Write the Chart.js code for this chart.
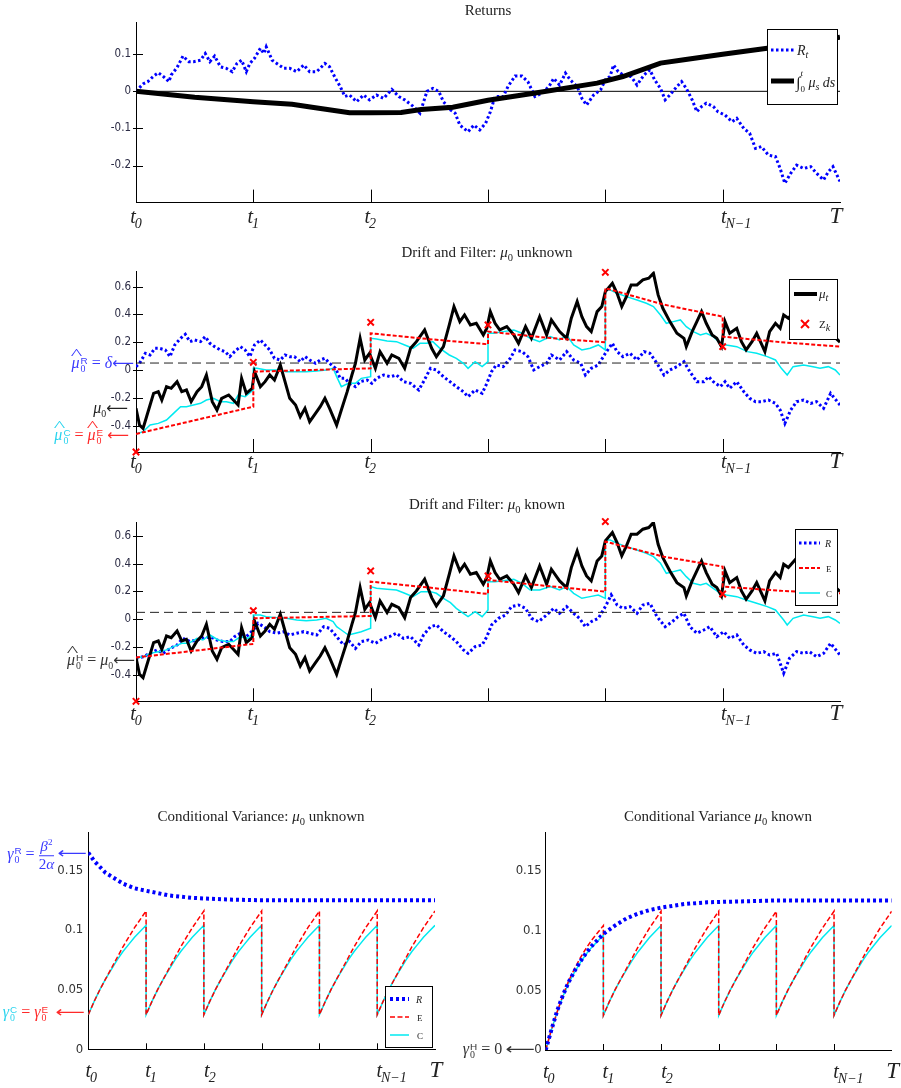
<!DOCTYPE html>
<html>
<head>
<meta charset="utf-8">
<script src="https://cdn.jsdelivr.net/npm/chart.js@4.4.1/dist/chart.umd.min.js"></script>
<style>
html, body { margin: 0; padding: 0; background: #fff; }
#page { position: relative; width: 901px; height: 1088px; overflow: hidden; font-family: "Liberation Serif", "DejaVu Serif", serif; color: #222; }
#page canvas { position: absolute; left: 0; top: 0; }
.t { position: absolute; white-space: nowrap; transform: translate(-50%, -50%); font-size: 15px; }
.a { position: absolute; white-space: nowrap; transform: translateY(-50%); font-size: 16px; }
.hat { position: relative; display: inline-block; }
.hat::before { content: "^"; position: absolute; left: 0.12em; right: -0.05em; top: -0.58em; text-align: center; font-style: normal; font-size: 0.9em; transform: scaleX(1.7); }
.ss { display: inline-block; vertical-align: -0.45em; line-height: 0.9; font-size: 0.62em; margin-left: 1px; }
.ss .u { display: block; font-family: "Liberation Sans", sans-serif; }
.ss .d { display: block; }
.frac { display: inline-block; vertical-align: middle; text-align: center; line-height: 1.1; font-size: 0.95em; }
.frac .n { display: block; border-bottom: 1px solid currentColor; padding: 0 1px; }
.frac .m { display: block; }
.arr { font-family: "DejaVu Sans", sans-serif; font-size: 0.95em; }
.arrL { display: inline-block; transform: scaleX(1.35); transform-origin: right center; margin-left: 11px; }
</style>
</head>
<body>
<div id="page">
  <canvas id="c1" width="901" height="1088"></canvas>
  <canvas id="c2" width="901" height="1088"></canvas>
  <canvas id="c3" width="901" height="1088"></canvas>
  <canvas id="c4" width="901" height="1088"></canvas>
  <canvas id="c5" width="901" height="1088"></canvas>

  <div class="t" style="left:488px;top:10px">Returns</div>
  <div class="t" style="left:487px;top:253px">Drift and Filter: <i>μ</i><sub style="font-size:0.7em">0</sub> unknown</div>
  <div class="t" style="left:487px;top:505px">Drift and Filter: <i>μ</i><sub style="font-size:0.7em">0</sub> known</div>
  <div class="t" style="left:261px;top:817px">Conditional Variance: <i>μ</i><sub style="font-size:0.7em">0</sub> unknown</div>
  <div class="t" style="left:718px;top:817px">Conditional Variance <i>μ</i><sub style="font-size:0.7em">0</sub> known</div>

  <div class="a" style="right:767px;top:364px;color:#3a3aff"><i class="hat">μ</i><span class="ss"><span class="u">R</span><span class="d">0</span></span> = <i>δ</i><span class="arr">⟵</span></div>
  <div class="a" style="right:773px;top:409px;color:#222"><i>μ</i><sub style="font-size:0.62em">0</sub><span class="arr">⟵</span></div>
  <div class="a" style="right:772px;top:436px"><span style="color:#2ad4ee"><i class="hat">μ</i><span class="ss"><span class="u">C</span><span class="d">0</span></span></span><span style="color:#ff2a2a"> = <i class="hat">μ</i><span class="ss"><span class="u">E</span><span class="d">0</span></span> <span class="arr">⟵</span></span></div>
  <div class="a" style="right:766px;top:661px;color:#333"><i class="hat">μ</i><span class="ss"><span class="u">H</span><span class="d">0</span></span> = <i>μ</i><sub style="font-size:0.62em">0</sub><span class="arr">⟵</span></div>

  <div class="a" style="right:814px;top:855px;color:#3a3aff"><i>γ</i><span class="ss"><span class="u">R</span><span class="d">0</span></span> = <span class="frac"><span class="n"><i>β</i><sup style="font-size:0.6em">2</sup></span><span class="m">2<i>α</i></span></span><span class="arr arrL">⟵</span></div>
  <div class="a" style="right:816px;top:1013px"><span style="color:#2ad4ee"><i>γ</i><span class="ss"><span class="u">C</span><span class="d">0</span></span></span><span style="color:#ff2a2a"> = <i>γ</i><span class="ss"><span class="u">E</span><span class="d">0</span></span> <span class="arr arrL">⟵</span></span></div>
  <div class="a" style="right:366px;top:1050px;color:#333"><i>γ</i><span class="ss"><span class="u">H</span><span class="d">0</span></span> = 0<span class="arr arrL">⟵</span></div>
</div>

<script>
// time axis: observation dates t0 ... T
const X_TICKS = [0, 1, 2, 3, 4, 5, 6];
const X_MARKS = [1, 2, 3, 4, 5];
const X_MAIN = ["t", "t", "t", "", "", "t", "T"];
const X_SUB = ["0", "1", "2", "", "", "N−1", ""];

const Y1_TICKS = [0.1, 0, -0.1, -0.2];
const Y2_TICKS = [0.6, 0.4, 0.2, 0, -0.2, -0.4];
const Y4_TICKS = [0.15, 0.1, 0.05, 0];
const DELTA = 0.05;

// panel 1: returns R_t and integrated drift, [t, value]
const RET_R = [[0,0],[.06,.02],[.1,.026],[.15,.041],[.19,.05],[.23,.041],[.28,.026],[.3,.044],[.35,.064],[.4,.095],[.45,.08],[.49,.08],[.55,.084],[.59,.102],[.63,.08],[.67,.095],[.72,.066],[.77,.062],[.82,.053],[.86,.075],[.9,.084],[.94,.053],[.97,.075],[1.01,.089],[1.06,.116],[1.09,.102],[1.11,.12],[1.16,.084],[1.2,.075],[1.26,.062],[1.31,.062],[1.37,.053],[1.43,.071],[1.48,.053],[1.54,.053],[1.61,.075],[1.65,.066],[1.7,.035],[1.74,.013],[1.78,-.014],[1.82,-.01],[1.88,-.028],[1.94,-.01],[1.99,-.023],[2.05,-.01],[2.11,-.019],[2.18,.005],[2.24,-.014],[2.29,-.023],[2.36,-.04],[2.42,-.059],[2.48,0],[2.53,.008],[2.58,0],[2.62,-.028],[2.68,-.05],[2.72,-.059],[2.76,-.091],[2.83,-.109],[2.88,-.091],[2.93,-.104],[2.98,-.086],[3.02,-.055],[3.06,-.014],[3.13,-.014],[3.17,.013],[3.23,.041],[3.29,.041],[3.34,.026],[3.4,-.014],[3.46,-.005],[3.52,.013],[3.56,.035],[3.61,.017],[3.66,.049],[3.7,.031],[3.76,.013],[3.8,-.019],[3.84,-.037],[3.9,-.01],[3.96,.004],[4.0,.031],[4.04,.04],[4.07,.071],[4.11,.053],[4.17,.04],[4.22,.04],[4.27,.017],[4.33,.044],[4.38,.058],[4.42,.031],[4.47,.008],[4.51,-.023],[4.55,-.01],[4.61,.013],[4.65,.026],[4.69,.008],[4.74,-.023],[4.78,-.055],[4.82,-.041],[4.86,-.032],[4.92,-.041],[4.96,-.055],[5.02,-.064],[5.08,-.082],[5.12,-.073],[5.18,-.1],[5.23,-.113],[5.28,-.154],[5.33,-.149],[5.39,-.172],[5.45,-.176],[5.49,-.208],[5.53,-.248],[5.58,-.221],[5.63,-.199],[5.69,-.208],[5.75,-.203],[5.8,-.221],[5.86,-.239],[5.9,-.217],[5.94,-.203],[6,-.243]];
const RET_INT = [[0,0],[.5,-.016],[1,-.028],[1.33,-.035],[1.5,-.043],[1.82,-.058],[2,-.058],[2.26,-.057],[2.43,-.049],[2.7,-.043],[3,-.024],[3.39,-.005],[3.93,.022],[4.15,.04],[4.47,.076],[4.67,.085],[5,.1],[5.38,.116],[6,.146]];
const ZERO = [[0,0],[6,0]];

// panels 2 and 3: drift mu_t (same path in both)
const MU = [[0,-.276],[.03,-.396],[.06,-.42],[.09,-.336],[.12,-.252],[.15,-.168],[.19,-.156],[.22,-.216],[.26,-.12],[.3,-.132],[.35,-.084],[.39,-.156],[.43,-.144],[.47,-.228],[.52,-.156],[.56,-.12],[.6,-.036],[.65,-.228],[.69,-.288],[.73,-.204],[.79,-.18],[.83,-.216],[.87,-.252],[.9,-.06],[.94,-.168],[.99,-.132],[1.01,-.012],[1.06,-.12],[1.1,-.084],[1.14,-.036],[1.18,-.072],[1.23,.036],[1.27,-.084],[1.31,-.204],[1.36,-.252],[1.4,-.336],[1.44,-.276],[1.48,-.372],[1.53,-.312],[1.57,-.264],[1.61,-.204],[1.65,-.276],[1.71,-.396],[1.75,-.288],[1.8,-.156],[1.84,-.036],[1.87,.048],[1.91,.228],[1.95,.072],[1.99,.12],[2.04,.012],[2.08,.132],[2.14,.048],[2.18,.108],[2.24,.084],[2.29,.012],[2.34,.156],[2.39,.204],[2.46,.288],[2.52,.156],[2.56,.096],[2.62,.168],[2.67,.324],[2.71,.456],[2.76,.348],[2.8,.396],[2.85,.324],[2.9,.336],[2.96,.252],[2.99,.3],[3.02,.42],[3.06,.336],[3.1,.288],[3.16,.312],[3.22,.252],[3.26,.192],[3.32,.312],[3.37,.228],[3.44,.384],[3.5,.252],[3.54,.36],[3.61,.276],[3.67,.228],[3.71,.372],[3.76,.492],[3.8,.384],[3.84,.312],[3.88,.276],[3.93,.42],[3.97,.456],[4.0,.564],[4.06,.624],[4.1,.552],[4.14,.456],[4.18,.528],[4.22,.612],[4.27,.612],[4.32,.648],[4.37,.66],[4.41,.696],[4.45,.54],[4.49,.444],[4.55,.348],[4.61,.264],[4.67,.228],[4.69,.168],[4.74,.276],[4.78,.348],[4.82,.42],[4.86,.336],[4.91,.252],[4.95,.228],[4.99,.168],[5.02,.348],[5.06,.264],[5.12,.3],[5.16,.204],[5.2,.144],[5.25,.204],[5.29,.264],[5.36,.132],[5.4,.276],[5.45,.336],[5.49,.3],[5.52,.396],[5.56,.372],[5.62,.43],[5.7,.36],[5.8,.32],[5.9,.28],[6,.2]];

// panel 2 (mu0 unknown) filters
const R2 = [[0,.024],[.03,.048],[.08,.12],[.12,.108],[.16,.156],[.2,.156],[.25,.144],[.29,.096],[.33,.18],[.38,.228],[.42,.257],[.46,.204],[.5,.216],[.55,.204],[.59,.24],[.63,.192],[.67,.168],[.72,.144],[.76,.132],[.8,.096],[.84,.132],[.89,.168],[.93,.144],[.97,.096],[1.01,.18],[1.06,.216],[1.1,.18],[1.14,.144],[1.18,.084],[1.23,.072],[1.27,.108],[1.31,.096],[1.35,.096],[1.4,.06],[1.44,.096],[1.48,.072],[1.53,.048],[1.57,.072],[1.61,.084],[1.65,.048],[1.7,.012],[1.74,-.06],[1.78,-.06],[1.82,-.096],[1.87,-.12],[1.91,-.084],[1.97,-.072],[2.01,-.096],[2.05,-.06],[2.11,-.036],[2.17,-.048],[2.22,-.036],[2.28,-.084],[2.34,-.096],[2.41,-.144],[2.45,-.084],[2.51,.012],[2.56,0],[2.62,-.048],[2.67,-.08],[2.73,-.12],[2.79,-.156],[2.83,-.192],[2.89,-.144],[2.95,-.168],[2.99,-.096],[3.03,-.012],[3.07,.036],[3.13,.024],[3.19,.084],[3.23,.144],[3.29,.132],[3.34,.096],[3.39,0],[3.44,.024],[3.5,.048],[3.54,.108],[3.61,.072],[3.67,.132],[3.73,.072],[3.79,.048],[3.83,-.036],[3.88,.012],[3.94,.036],[4.0,.12],[4.06,.192],[4.1,.132],[4.15,.096],[4.21,.12],[4.27,.072],[4.33,.132],[4.38,.12],[4.44,.048],[4.5,-.036],[4.55,0],[4.61,.024],[4.67,.06],[4.72,-.012],[4.78,-.084],[4.84,-.084],[4.88,-.048],[4.92,-.084],[4.98,-.12],[5.02,-.084],[5.06,-.132],[5.12,-.084],[5.18,-.156],[5.23,-.204],[5.28,-.228],[5.33,-.228],[5.39,-.216],[5.45,-.24],[5.49,-.288],[5.53,-.384],[5.58,-.288],[5.63,-.228],[5.69,-.216],[5.75,-.24],[5.8,-.228],[5.86,-.276],[5.92,-.168],[6,-.252]];
const C2 = [[0,-.46],[.06,-.444],[.12,-.396],[.19,-.384],[.26,-.36],[.32,-.312],[.38,-.264],[.43,-.264],[.49,-.252],[.55,-.24],[.6,-.216],[.66,-.204],[.72,-.228],[.77,-.228],[.83,-.24],[.87,-.18],[.93,-.192],[1,-.144],[1,.012],[1.03,.012],[1.11,0],[1.2,0],[1.28,-.012],[1.37,-.012],[1.45,-.012],[1.54,-.007],[1.62,0],[1.68,.012],[1.71,-.048],[1.75,-.12],[1.81,-.096],[1.87,-.096],[1.92,-.06],[2,-.048],[2,.228],[2.05,.223],[2.14,.209],[2.22,.204],[2.29,.18],[2.36,.156],[2.42,.192],[2.48,.192],[2.53,.204],[2.59,.156],[2.67,.108],[2.73,.084],[2.79,.048],[2.83,.012],[2.89,.06],[2.95,.024],[3,.06],[3,.264],[3.05,.264],[3.13,.276],[3.22,.288],[3.29,.264],[3.36,.228],[3.44,.204],[3.53,.24],[3.61,.216],[3.67,.252],[3.73,.18],[3.8,.144],[3.87,.156],[3.94,.18],[4,.144],[4,.576],[4.04,.576],[4.1,.552],[4.18,.528],[4.27,.504],[4.35,.48],[4.41,.456],[4.47,.396],[4.52,.336],[4.58,.348],[4.64,.36],[4.69,.312],[4.75,.276],[4.81,.252],[4.86,.264],[4.92,.24],[4.98,.192],[5.03,.18],[5.12,.168],[5.21,.132],[5.29,.12],[5.38,.096],[5.45,.072],[5.5,.012],[5.55,-.036],[5.6,.024],[5.69,.036],[5.77,.024],[5.83,.012],[5.9,.024],[5.96,0],[6,-.036]];
const E2 = [[0,-.46],[.5,-.362],[1,-.264],[1,-.012],[2,.012],[2,.264],[2.5,.222],[3,.185],[3,.276],[3.5,.232],[4,.199],[4,.588],[4.5,.47],[5,.384],[5,.24],[5.5,.2],[6,.168]];
const Z2 = [[0,-.59],[1,.055],[2,.343],[3,.324],[4,.703],[5,.168]];

// panel 3 (mu0 known) filters
const R3 = [[0,-.28],[.06,-.27],[.12,-.245],[.18,-.22],[.23,-.245],[.29,-.21],[.35,-.185],[.4,-.137],[.46,-.16],[.52,-.149],[.57,-.137],[.63,-.125],[.69,-.149],[.74,-.16],[.8,-.16],[.84,-.125],[.89,-.1],[.94,-.125],[1.0,-.077],[1.04,-.029],[1.09,-.053],[1.14,-.089],[1.2,-.1],[1.26,-.089],[1.31,-.113],[1.37,-.1],[1.43,-.089],[1.48,-.1],[1.54,-.113],[1.6,-.053],[1.65,-.065],[1.71,-.125],[1.77,-.185],[1.82,-.16],[1.87,-.21],[1.92,-.16],[1.98,-.149],[2.04,-.173],[2.11,-.137],[2.16,-.125],[2.22,-.1],[2.28,-.137],[2.34,-.125],[2.41,-.185],[2.45,-.113],[2.51,-.053],[2.56,-.041],[2.62,-.089],[2.68,-.125],[2.73,-.16],[2.79,-.22],[2.83,-.245],[2.89,-.197],[2.95,-.185],[2.99,-.125],[3.03,-.041],[3.09,.007],[3.15,.031],[3.2,.091],[3.26,.103],[3.32,.079],[3.37,.007],[3.43,-.017],[3.5,.031],[3.56,.079],[3.61,.043],[3.67,.091],[3.73,.043],[3.78,.007],[3.83,-.053],[3.88,-.017],[3.94,.007],[4.0,.091],[4.05,.175],[4.1,.103],[4.15,.079],[4.21,.091],[4.27,.043],[4.32,.103],[4.38,.115],[4.44,.019],[4.51,-.053],[4.57,-.017],[4.62,.019],[4.67,.043],[4.72,-.053],[4.78,-.1],[4.84,-.077],[4.89,-.053],[4.95,-.125],[5.01,-.089],[5.06,-.137],[5.12,-.113],[5.18,-.185],[5.23,-.22],[5.29,-.245],[5.35,-.233],[5.4,-.257],[5.46,-.245],[5.52,-.388],[5.57,-.28],[5.63,-.233],[5.69,-.245],[5.74,-.233],[5.8,-.269],[5.86,-.245],[5.92,-.173],[6,-.257]];
const C3 = [[0,-.28],[.06,-.27],[.12,-.245],[.19,-.233],[.26,-.22],[.32,-.197],[.39,-.173],[.45,-.173],[.52,-.137],[.57,-.149],[.63,-.113],[.7,-.149],[.77,-.16],[.83,-.16],[.89,-.125],[.96,-.137],[1,-.089],[1,.031],[1.06,.031],[1.11,.019],[1.2,.012],[1.28,.007],[1.37,-.005],[1.45,-.01],[1.54,-.005],[1.62,.007],[1.68,-.017],[1.71,-.053],[1.75,-.077],[1.81,-.113],[1.87,-.1],[1.92,-.089],[2,-.065],[2,.235],[2.05,.223],[2.14,.216],[2.22,.211],[2.29,.187],[2.36,.163],[2.43,.199],[2.51,.199],[2.56,.187],[2.62,.151],[2.68,.12],[2.73,.079],[2.79,.043],[2.83,.019],[2.89,.055],[2.95,.019],[3,.067],[3,.271],[3.06,.271],[3.13,.278],[3.22,.288],[3.29,.259],[3.36,.211],[3.44,.211],[3.53,.235],[3.61,.211],[3.67,.235],[3.73,.187],[3.8,.151],[3.87,.163],[3.94,.175],[4,.151],[4,.571],[4.04,.571],[4.1,.547],[4.18,.523],[4.27,.499],[4.35,.475],[4.41,.451],[4.47,.403],[4.52,.331],[4.58,.343],[4.64,.355],[4.69,.307],[4.75,.259],[4.81,.247],[4.86,.259],[4.92,.223],[4.98,.187],[5.03,.175],[5.12,.163],[5.2,.139],[5.29,.115],[5.38,.091],[5.45,.067],[5.52,-.005],[5.55,-.041],[5.6,.007],[5.69,.031],[5.77,.019],[5.83,.007],[5.9,.019],[5.96,-.005],[6,-.029]];
const E3 = [[0,-.275],[.5,-.226],[1,-.177],[1,.007],[2,.024],[2,.271],[2.5,.228],[3,.182],[3,.283],[3.5,.24],[4,.199],[4,.559],[4.5,.45],[5,.379],[5,.235],[5.5,.205],[6,.187]];
const Z3 = [[0,-.59],[1,.062],[2,.348],[3,.312],[4,.703],[5,.182]];

// panels 4 and 5: conditional variances
const VAR_R_UNKNOWN = [[0,.165],[.1,.158],[.2,.153],[.3,.148],[.4,.145],[.5,.142],[.6,.139],[.7,.137],[.8,.135],[.9,.134],[1,.133],[1.2,.131],[1.4,.129],[1.6,.128],[1.8,.127],[2,.1265],[2.5,.1255],[3,.125],[6,.125]];
const VAR_R_KNOWN = [[0,0],[.1,.017],[.2,.033],[.3,.046],[.4,.057],[.5,.066],[.6,.074],[.7,.081],[.8,.087],[.9,.092],[1,.097],[1.2,.104],[1.4,.11],[1.6,.114],[1.8,.117],[2,.119],[2.4,.122],[2.8,.1235],[3.2,.124],[3.6,.1245],[4,.125],[6,.125]];
const VAR_TAU = [0, .1, .2, .3, .4, .5, .6, .7, .8, .9, 1];
const VAR_C_CYCLE = [.029, .040, .050, .059, .067, .075, .082, .088, .094, .099, .104];
const VAR_E_CYCLE = [.029, .040, .050, .059, .068, .077, .086, .094, .102, .109, .116];
const VAR_C_FIRST_KNOWN = [0, .017, .032, .045, .056, .065, .073, .080, .086, .091, .096];
const VAR_E_FIRST_KNOWN = [0, .017, .032, .046, .058, .068, .077, .085, .092, .098, .104];
const N_CYCLES = 6;

const W = 901, H = 1088, YAXIS_W = 60;
const SERIF = '"Liberation Serif","DejaVu Serif",serif';
const NARROW = '"Liberation Sans Narrow","DejaVu Sans Condensed","Liberation Sans",sans-serif';
const BLUE = "#0000ff", RED = "#ff0000", CYAN = "#00eaf0", BLACK = "#000";

const pts = (a) => a.map(([x, y]) => ({ x, y }));
const cycles = (first, cyc) => {
  const out = [];
  for (let k = 0; k < N_CYCLES; k++) {
    const v = k === 0 && first ? first : cyc;
    VAR_TAU.forEach((tau, i) => out.push([k + tau, v[i]]));
  }
  return out;
};
const line = (data, color, width, dash, extra) => Object.assign({
  data: pts(data), borderColor: color, borderWidth: width, borderDash: dash || [],
  pointRadius: 0, fill: false, tension: 0, borderCapStyle: "butt", borderJoinStyle: "miter"
}, extra || {});
const marks = (data) => ({
  data: pts(data), showLine: false, pointStyle: "crossRot", pointRadius: 4.5,
  pointBorderColor: RED, pointBorderWidth: 2, borderColor: RED, clip: false
});

function drawLegend(ctx, L) {
  const [x1, y1, x2, y2] = L.box;
  ctx.save();
  ctx.fillStyle = "#fff";
  ctx.fillRect(x1, y1, x2 - x1, y2 - y1);
  ctx.strokeStyle = "#000"; ctx.lineWidth = 1; ctx.setLineDash([]);
  ctx.strokeRect(x1 + 0.5, y1 + 0.5, x2 - x1, y2 - y1);
  ctx.textAlign = "left"; ctx.textBaseline = "alphabetic";
  for (const it of L.items) {
    if (it.line) {
      ctx.strokeStyle = it.line[0]; ctx.lineWidth = it.line[1]; ctx.setLineDash(it.line[2]);
      ctx.beginPath(); ctx.moveTo(it.sx[0], it.y); ctx.lineTo(it.sx[1], it.y); ctx.stroke();
      ctx.setLineDash([]);
    }
    if (it.mark) {
      const [mx, r] = it.mark;
      ctx.strokeStyle = RED; ctx.lineWidth = 2;
      ctx.beginPath();
      ctx.moveTo(mx - r, it.y - r); ctx.lineTo(mx + r, it.y + r);
      ctx.moveTo(mx + r, it.y - r); ctx.lineTo(mx - r, it.y + r);
      ctx.stroke();
    }
    ctx.fillStyle = "#222";
    let x = it.tx;
    for (const p of it.text) {
      ctx.font = p.f;
      ctx.fillText(p.t, x, it.y + (p.dy || 0));
      if (p.adv !== false) x += ctx.measureText(p.t).width;
    }
  }
  ctx.restore();
}

function deco(cfg) {
  return {
    id: "deco",
    afterDatasetsDraw(chart) { if (cfg.legend) drawLegend(chart.ctx, cfg.legend); },
    afterDraw(chart) {
      const ctx = chart.ctx, xs = chart.scales.x, ys = chart.scales.y, a = chart.chartArea;
      ctx.save();
      ctx.strokeStyle = "#000"; ctx.lineWidth = 1;
      if (cfg.yMarks) {
        for (const v of cfg.yTicks) {
          const py = Math.round(ys.getPixelForValue(v)) + 0.5;
          ctx.beginPath(); ctx.moveTo(a.left - 3, py); ctx.lineTo(a.left + 7, py); ctx.stroke();
        }
      }
      for (const v of X_MARKS) {
        const px = Math.round(xs.getPixelForValue(v)) + 0.5;
        ctx.beginPath(); ctx.moveTo(px, a.bottom); ctx.lineTo(px, a.bottom - cfg.xMark); ctx.stroke();
      }
      ctx.fillStyle = "#222"; ctx.textAlign = "left"; ctx.textBaseline = "alphabetic";
      X_TICKS.forEach((v, i) => {
        const main = X_MAIN[i];
        if (!main) return;
        ctx.font = "italic " + (main === "T" ? 23 : 20) + "px " + SERIF;
        const w = ctx.measureText(main).width;
        let x = xs.getPixelForValue(v) + cfg.xOff[i] - w / 2;
        const y = a.bottom + cfg.labelDy;
        ctx.fillText(main, x, y);
        x += w;
        if (X_SUB[i]) {
          ctx.font = "italic 14px " + SERIF;
          ctx.fillText(X_SUB[i], x - 1, y + 5);
        }
      });
      ctx.restore();
    }
  };
}

function panel(id, box, yr, yTicks, datasets, cfg) {
  cfg.yTicks = yTicks;
  return new Chart(document.getElementById(id), {
    type: "line",
    data: { datasets },
    options: {
      responsive: false, animation: false, events: [], parsing: false,
      layout: { padding: { left: box[0] - YAXIS_W, top: box[1], right: W - box[2], bottom: H - box[3] } },
      plugins: { legend: { display: false }, tooltip: { enabled: false } },
      scales: {
        x: {
          type: "linear", min: 0, max: 6,
          afterFit: (s) => { s.height = 0; },
          grid: { display: false, drawTicks: false },
          ticks: { display: false },
          border: { display: true, color: "#000", width: 1 }
        },
        y: {
          type: "linear", min: yr[0], max: yr[1],
          afterFit: (s) => { s.width = YAXIS_W; },
          afterBuildTicks: (s) => { s.ticks = yTicks.map((v) => ({ value: v })); },
          grid: { display: false, drawTicks: false },
          ticks: { padding: cfg.yPad, color: cfg.yColor, font: { family: NARROW, size: cfg.ySize }, callback: (v) => String(v) },
          border: { display: true, color: "#000", width: 1 }
        }
      }
    },
    plugins: [deco(cfg)]
  });
}

const TOP_OFF = [-3, -3, -3.5, 0, 0, 1, -4];
const BOT_OFF = [0, 2, 3, 0, 0, 2, 1];
const sub = (t, dy) => ({ t, f: "italic 10px " + SERIF, dy });

// Returns
panel("c1", [136, 22.7, 840, 202.6], [-0.3, 0.185], Y1_TICKS, [
  line(RET_INT, BLACK, 5),
  line(RET_R, BLUE, 3, [2.5, 2.5]),
  line(ZERO, BLACK, 1)
], {
  yPad: 5, yColor: "#2b2b44", ySize: 11.5, yMarks: true, xMark: 13, labelDy: 20, xOff: TOP_OFF,
  legend: { box: [767, 29, 837, 104], items: [
    { y: 50, line: [BLUE, 3, [2.5, 2.5]], sx: [771, 794], tx: 797, text: [{ t: "R", f: "italic 14px " + SERIF, dy: 5 }, sub("t", 8)] },
    { y: 81, line: [BLACK, 5, []], sx: [771, 794], tx: 796, text: [
      { t: "∫", f: "16px " + SERIF, dy: 7 }, { t: "t", f: "italic 9px " + SERIF, dy: -5, adv: false }, { t: "0", f: "9px " + SERIF, dy: 11 },
      { t: " μ", f: "italic 14px " + SERIF, dy: 6 }, sub("s", 9), { t: " ds", f: "italic 14px " + SERIF, dy: 6 }
    ] }
  ] }
});

// Drift and Filter: mu0 unknown
panel("c2", [136, 271.3, 840, 452], [-0.59, 0.71], Y2_TICKS, [
  marks(Z2),
  line(E2, RED, 2, [4, 2]),
  line(MU, BLACK, 3),
  line(C2, CYAN, 1.5),
  line([[0, DELTA], [6, DELTA]], "#222", 1, [9, 5]),
  line(R2, BLUE, 3, [2.5, 2.5])
], {
  yPad: 5, yColor: "#2b2b44", ySize: 11.5, yMarks: true, xMark: 13, labelDy: 16, xOff: TOP_OFF,
  legend: { box: [789, 279, 837, 339], items: [
    { y: 294, line: [BLACK, 4, []], sx: [794, 817], tx: 819, text: [{ t: "μ", f: "italic 13px " + SERIF, dy: 4 }, sub("t", 7)] },
    { y: 324, mark: [805, 4], tx: 819, text: [{ t: "Z", f: "11px " + SERIF, dy: 4 }, sub("k", 7)] }
  ] }
});

// Drift and Filter: mu0 known
panel("c3", [136, 522, 840, 701.3], [-0.59, 0.70], Y2_TICKS, [
  marks(Z3),
  line(E3, RED, 2, [4, 2]),
  line(MU, BLACK, 3),
  line(C3, CYAN, 1.5),
  line([[0, DELTA], [6, DELTA]], "#222", 1, [9, 5]),
  line(R3, BLUE, 3, [2.5, 2.5])
], {
  yPad: 5, yColor: "#2b2b44", ySize: 11.5, yMarks: true, xMark: 13, labelDy: 19, xOff: TOP_OFF,
  legend: { box: [795, 529, 837, 605], items: [
    { y: 543, line: [BLUE, 3, [2.5, 2.5]], sx: [799, 820], tx: 825, text: [{ t: "R", f: "italic 10px " + SERIF, dy: 4 }] },
    { y: 568, line: [RED, 2, [4, 2]], sx: [799, 820], tx: 826, text: [{ t: "E", f: "9px " + SERIF, dy: 4 }] },
    { y: 593, line: [CYAN, 1.5, []], sx: [799, 820], tx: 826, text: [{ t: "C", f: "9px " + SERIF, dy: 4 }] }
  ] }
});

// Conditional Variance: mu0 unknown
panel("c4", [88.3, 832.3, 435, 1049.3], [0, 0.182], Y4_TICKS, [
  line(VAR_R_UNKNOWN, BLUE, 4, [3, 3]),
  line(cycles(null, VAR_E_CYCLE), RED, 1.5, [5, 2.5]),
  line(cycles(null, VAR_C_CYCLE), CYAN, 1.5)
], {
  yPad: 5, yColor: "#333", ySize: 13, yMarks: false, xMark: 6, labelDy: 28, xOff: BOT_OFF,
  legend: { box: [385, 986, 432, 1047], items: [
    { y: 999, line: [BLUE, 4, [3, 3]], sx: [390, 409], tx: 416, text: [{ t: "R", f: "italic 10px " + SERIF, dy: 4 }] },
    { y: 1017, line: [RED, 1.5, [5, 2.5]], sx: [390, 409], tx: 417, text: [{ t: "E", f: "9px " + SERIF, dy: 4 }] },
    { y: 1035, line: [CYAN, 1.5, []], sx: [390, 409], tx: 417, text: [{ t: "C", f: "9px " + SERIF, dy: 4 }] }
  ] }
});

// Conditional Variance mu0 known
panel("c5", [545.7, 832.3, 891.7, 1050], [0, 0.182], Y4_TICKS, [
  line(VAR_R_KNOWN, BLUE, 4, [3, 3]),
  line(cycles(VAR_E_FIRST_KNOWN, VAR_E_CYCLE), RED, 1.5, [5, 2.5]),
  line(cycles(VAR_C_FIRST_KNOWN, VAR_C_CYCLE), CYAN, 1.5)
], {
  yPad: 4, yColor: "#333", ySize: 13, yMarks: false, xMark: 6, labelDy: 28, xOff: BOT_OFF
});
</script>
</body>
</html>
